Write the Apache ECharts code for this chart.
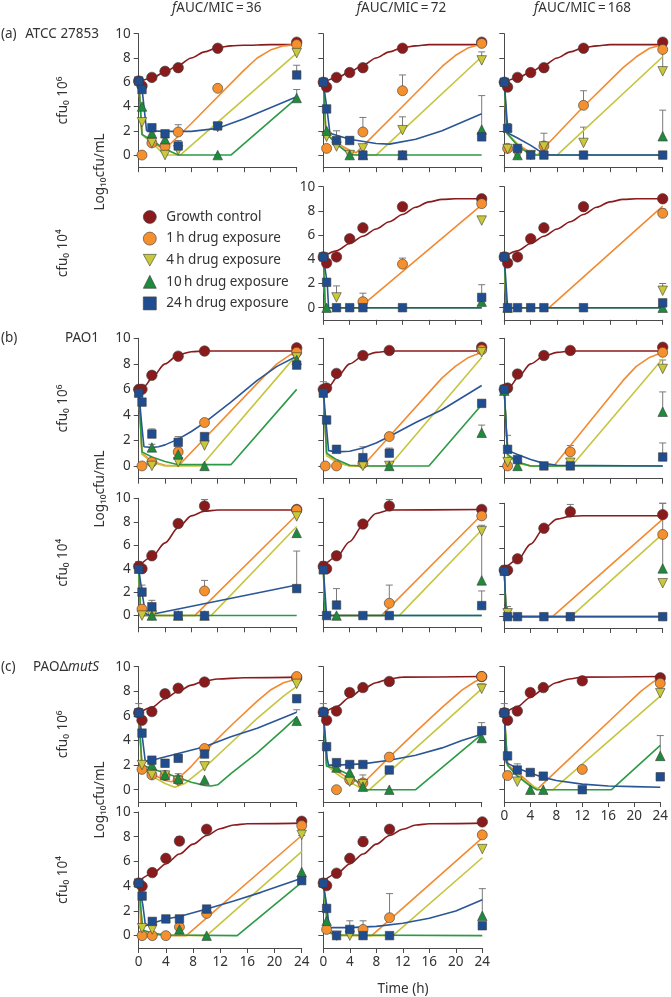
<!DOCTYPE html>
<html><head><meta charset="utf-8">
<script src="https://cdn.jsdelivr.net/npm/echarts@6/dist/echarts.min.js"></script>
<style>html,body{margin:0;padding:0;background:#fff}#c{width:671px;height:997px}</style>
</head><body><div id="c"></div>
<script>
// ---------- DATA (log10 cfu/mL vs time h) ----------
// order in each *_pts / *_fit: [growth control, 1h, 4h, 10h, 24h]
const seriesNames = ['Growth control','1\u2009h drug exposure','4\u2009h drug exposure','10\u2009h drug exposure','24\u2009h drug exposure'];
const colTitles = ['36','72','168'];
const xTicks = [0,4,8,12,16,20,24];
const yTicks = [0,2,4,6,8,10];

// (a) ATCC 27853, cfu0 10^6
const A1_pts = [[[0,6.1],[0.5,5.7],[2,6.4],[4,6.9],[6,7.2],[12,8.8],[24,9.3]],
 [[0.5,0],[2,1.0],[4,0.7],[6,1.9],[12,5.5],[24,9.1]],
 [[0.5,2.7],[2,1.0],[4,0],[6,0.4],[12,2.3],[24,8.4]],
 [[0.5,4.0],[2,1.8],[4,1.3],[12,0],[24,4.7]],
 [[0,6.1],[0.5,5.4],[2,2.25],[4,1.75],[6,0.75],[12,2.4],[24,6.6]]];
const A1_fit = [[[0,6.0],[2,6.35],[4,6.85],[6,7.4],[8,8.0],[10,8.5],[12,8.85],[14,9.0],[16,9.05],[20,9.1],[24,9.1]],
 [[0,6.1],[0.5,1.7],[2,1.0],[4,0.5],[8,2.6],[12,4.8],[16,7.0],[18,8.0],[20,8.65],[22,9.0],[24,9.1]],
 [[0,6.1],[0.5,1.7],[2,1.0],[4,0],[6.3,0],[24,8.4]],
 [[0,6.1],[0.5,1.7],[2,1.2],[4,0.5],[6,0],[14,0],[24,4.7]],
 [[0,6.1],[0.6,5.0],[1.2,2.0],[4,1.95],[8,1.95],[12,2.2],[16,3.0],[20,3.9],[24,4.8]]];
const A1_err = [[24,6.6,7.4],[24,4.7,5.4],[6,1.9,2.5],[12,2.4,2.6],[6,0.75,1.2]];

const A2_pts = [[[0,6.0],[0.5,5.6],[2,6.4],[4,6.8],[6,7.2],[12,8.8],[24,9.3]],
 [[0.5,0.55],[6,1.9],[12,5.3],[24,9.2]],
 [[0.5,1.5],[2,0.7],[4,0],[6,0.55],[12,2.05],[24,7.8]],
 [[0.5,2.0],[4,0],[6,0],[12,0],[24,2.1]],
 [[0,6.0],[0.5,3.8],[2,1.2],[4,1.2],[6,0],[12,0],[24,1.5]]];
const A2_fit = [[[0,6.0],[2,6.35],[4,6.85],[6,7.4],[8,8.0],[10,8.5],[12,8.85],[14,9.0],[16,9.1],[24,9.1]],
 [[0,6.0],[0.4,1.8],[2,1.0],[4,0.4],[5,0.2],[12,4.0],[18,7.3],[20,8.2],[22,8.85],[24,9.15]],
 [[0,6.0],[0.4,1.8],[2,1.0],[4,0.1],[5,0],[8,0],[24,8.1]],
 [[0,6.0],[0.4,1.8],[2,0.9],[4,0.05],[5,0],[24,0]],
 [[0,6.0],[0.6,3.6],[1,1.8],[4,1.3],[8,0.95],[10,0.9],[14,1.3],[18,2.0],[24,3.4]]];
const A2_err = [[6,1.9,3.1],[12,5.3,6.6],[12,2.05,3.15],[24,7.8,8.5],[24,1.5,4.9],[2,1.2,2.0],[4,1.2,1.5]];

const A3_pts = [[[0,6.0],[0.5,5.6],[2,6.4],[4,6.8],[6,7.2],[12,8.8],[24,9.3]],
 [[0.5,0.55],[6,0.75],[12,4.1],[24,8.7]],
 [[0.5,0.5],[2,0],[4,0],[6,0.7],[12,1.0],[24,6.9]],
 [[2,0],[24,1.55]],
 [[0,6.0],[0.5,2.2],[2,0.55],[4,0],[6,0],[12,0],[24,0]]];
const A3_fit = [[[0,6.0],[2,6.35],[4,6.85],[6,7.4],[8,8.0],[10,8.5],[12,8.85],[14,9.0],[16,9.1],[24,9.1]],
 [[0,6.0],[0.4,1.8],[2,0.9],[4,0.2],[5,0],[12,4.0],[18,7.2],[20,8.1],[22,8.8],[24,9.1]],
 [[0,6.0],[0.4,1.8],[2,0.9],[4,0],[8,0],[24,8.1]],
 [[0,6.0],[0.4,1.8],[2,0.8],[4,0],[24,0]],
 [[0,6.0],[0.4,3.0],[0.6,1.8],[2,1.4],[4,0.8],[6,0.1],[7,0],[24,0]]];
const A3_err = [[6,0.75,1.8],[12,4.1,5.3],[12,1.0,2.3],[24,6.9,8.5],[24,1.55,3.7],[0.5,2.2,2.6]];

// (a) ATCC 27853, cfu0 10^4
const A5_pts = [[[0,4.2],[0.5,3.7],[2,4.2],[4,5.7],[6,6.6],[12,8.35],[24,9.0]],
 [[6,0.5],[12,3.6],[24,8.6]],
 [[2,0.85],[24,7.2]],
 [[0.5,0],[24,0.5]],
 [[0,4.2],[0.5,2.1],[2,0],[4,0],[6,0],[12,0],[24,0.85]]];
const A5_fit = [[[0,4.2],[2,4.7],[4,5.3],[6,5.9],[8,6.5],[10,7.1],[12,7.7],[14,8.3],[16,8.75],[18,8.95],[20,9.0],[24,9.0]],
 [[0,4.2],[0.3,0],[5.5,0],[24,8.5]],
 [[0,4.2],[0.3,0],[24,0]],
 [[0,4.2],[0.3,0],[24,0]],
 [[0,4.2],[0.6,2.0],[0.8,0],[24,0]]];
const A5_err = [[6,0.5,1.2],[12,3.6,4.1],[2,0.85,1.8],[24,0.85,1.9]];

const A6_pts = [[[0,4.2],[0.5,3.7],[2,4.2],[4,5.7],[6,6.6],[12,8.35],[24,9.0]],
 [[24,7.8]],
 [[24,1.4]],
 [[0.5,0],[24,0]],
 [[0,4.2],[0.5,0],[2,0],[4,0],[6,0],[12,0],[24,0.4]]];
const A6_fit = [[[0,4.2],[2,4.7],[4,5.3],[6,5.9],[8,6.5],[10,7.1],[12,7.7],[14,8.3],[16,8.75],[18,8.95],[20,9.0],[24,9.0]],
 [[0,4.2],[0.3,0],[6.8,0],[24,8.4]],
 [[0,4.2],[0.3,0],[24,0]],
 [[0,4.2],[0.3,0],[24,0]],
 [[0,4.2],[0.5,0],[24,0]]];
const A6_err = [[24,7.8,8.15],[24,1.4,2.0]];

// (b) PAO1, cfu0 10^6
const B1_pts = [[[0,6.0],[0.5,6.0],[2,7.1],[6,8.6],[10,9.0],[24,9.25]],
 [[0.5,0],[2,0.3],[6,1.1],[10,3.4],[24,8.9]],
 [[2,0],[6,0.3],[10,1.6],[24,8.5]],
 [[2,1.45],[6,0.9],[10,0],[24,8.3]],
 [[0,5.7],[0.5,5.0],[2,2.5],[6,1.85],[10,2.3],[24,7.9]]];
const B1_fit = [[[0,6.0],[1,6.3],[2,6.9],[4,8.0],[6,8.7],[8,8.95],[10,9.0],[24,9.0]],
 [[0,5.9],[0.5,1.0],[2,0.35],[4,0.05],[6,0],[19,7.0],[21,8.0],[23,8.7],[24,8.85]],
 [[0,5.9],[0.5,0.9],[2,0.3],[4,0],[9.5,0],[24,8.7]],
 [[0,5.9],[0.5,1.1],[2,0.7],[4,0.35],[6,0.1],[14,0.1],[24,6.0]],
 [[0,5.9],[0.5,3.0],[0.8,1.5],[2,1.45],[3,1.5],[4,1.65],[6,2.1],[8,2.7],[10,3.4],[14,5.0],[18,6.7],[21,7.8],[24,8.6]]];
const B1_err = [[2,7.1,7.4],[2,2.5,2.9],[6,1.85,2.3],[10,1.6,2.0],[6,1.1,1.4],[2,1.45,1.7]];

const B2_pts = [[[0,6.0],[0.5,6.1],[2,7.25],[6,8.65],[10,9.05],[24,9.3]],
 [[0.3,0],[2,0],[6,0.2],[10,2.3],[24,9.1]],
 [[6,0],[10,0],[24,8.9]],
 [[10,0],[24,2.6]],
 [[0,5.7],[0.5,3.6],[2,1.3],[6,0.65],[10,1.0],[24,4.9]]];
const B2_fit = [[[0,6.0],[1,6.3],[2,6.9],[4,8.0],[6,8.6],[8,8.9],[10,9.0],[24,9.0]],
 [[0,5.9],[0.5,1.0],[2,0.3],[4,0],[6,0],[10,2.3],[18,6.9],[20,7.8],[22,8.5],[24,8.9]],
 [[0,5.9],[0.5,0.8],[2,0.3],[4,0],[10,0],[24,8.5]],
 [[0,5.9],[0.5,1.0],[2,0.5],[4,0.05],[6,0],[16,0],[24,4.8]],
 [[0,5.9],[0.4,3.5],[0.8,1.2],[2,1.1],[4,1.15],[6,1.4],[8,1.8],[10,2.3],[14,3.4],[18,4.4],[24,6.3]]];
const B2_err = [[2,7.25,7.5],[0,5.7,6.6],[6,0.65,1.5],[10,1.0,1.4],[2,1.3,1.6],[24,2.6,3.2],[24,4.9,5.1]];

const B3_pts = [[[0,6.0],[0.5,6.1],[2,7.2],[6,8.65],[10,9.05],[24,9.3]],
 [[0.5,0],[10,1.1],[24,8.9]],
 [[0.5,0.3],[10,0.25],[24,7.6]],
 [[0,5.9],[2,0],[24,4.25]],
 [[0,6.0],[0.5,1.3],[2,0.5],[6,0],[10,0],[24,0.7]]];
const B3_fit = [[[0,6.0],[1,6.3],[2,6.9],[4,8.0],[6,8.6],[8,8.9],[10,9.0],[24,9.0]],
 [[0,5.9],[0.5,0.8],[2,0.3],[4,0],[7.5,0],[18,6.7],[20,7.8],[22,8.5],[24,8.9]],
 [[0,5.9],[0.5,0.8],[2,0.2],[4,0],[10.2,0],[24,8.4]],
 [[0,5.9],[0.5,0.9],[2,0.3],[4,0],[24,0]],
 [[0,5.9],[0.4,2.0],[0.6,1.2],[2,0.9],[4,0.5],[6,0.2],[8,0.05],[24,0]]];
const B3_err = [[2,7.2,7.5],[10,1.1,1.6],[24,7.6,8.3],[24,4.25,5.8],[24,0.7,1.8],[0.5,1.3,2.4]];

// (b) PAO1, cfu0 10^4
const B4_pts = [[[0,4.2],[0.5,4.0],[2,5.1],[6,7.85],[10,9.35],[24,9.05]],
 [[0.5,0.55],[10,2.1],[24,9.0]],
 [[0.5,0],[2,0],[24,8.45]],
 [[2,0],[6,0],[10,0],[24,7.05]],
 [[0,3.95],[0.5,2.0],[2,0.75],[6,0],[10,0],[24,2.3]]];
const B4_fit = [[[0,4.2],[2,5.0],[4,6.2],[6,7.5],[8,8.5],[10,8.9],[12,9.0],[24,9.0]],
 [[0,4.0],[0.3,0],[8.5,0],[24,8.6]],
 [[0,4.0],[0.3,0],[11,0],[24,7.6]],
 [[0,4.0],[0.3,0],[24,0]],
 [[0,4.0],[0.5,2.0],[1,0.2],[1.5,0.05],[24,2.6]]];
const B4_err = [[0,4.2,4.6],[2,5.1,5.5],[10,9.35,9.9],[10,2.1,3.0],[0.5,2.0,2.6],[2,0.75,1.3],[24,2.3,5.5]];

const B5_pts = [[[0,4.2],[0.5,4.0],[2,5.1],[6,7.8],[10,9.35],[24,9.05]],
 [[10,1.05],[24,8.5]],
 [[24,7.2]],
 [[2,0],[24,3.0]],
 [[0,3.9],[0.5,0],[2,0.9],[6,0],[10,0],[24,0.85]]];
const B5_fit = [[[0,4.2],[2,5.0],[4,6.3],[6,7.7],[8,8.7],[10,9.0],[24,9.05]],
 [[0,4.0],[0.3,0],[8.8,0],[24,8.6]],
 [[0,4.0],[0.3,0],[11.5,0],[24,7.3]],
 [[0,4.0],[0.3,0],[24,0]],
 [[0,4.0],[0.5,0],[24,0]]];
const B5_err = [[0,4.2,4.6],[2,5.1,5.4],[10,9.35,9.9],[10,1.05,2.6],[2,0.9,2.3],[24,3.0,7.7],[24,0.85,2.1]];

const B6_pts = [[[0,4.1],[0.5,4.1],[2,5.1],[6,7.8],[10,9.25],[24,9.0]],
 [[24,7.25]],
 [[0.5,0.3],[24,2.95]],
 [[24,4.25]],
 [[0,4.0],[0.5,0],[2,0],[6,0],[10,0],[24,0]]];
const B6_fit = [[[0,4.2],[2,5.0],[4,6.4],[6,7.8],[8,8.6],[10,8.85],[12,8.9],[24,8.9]],
 [[0,4.0],[0.3,0],[7.3,0],[24,8.6]],
 [[0,4.0],[0.3,0],[10.1,0],[24,7.3]],
 [[0,4.0],[0.3,0],[24,0]],
 [[0,4.0],[0.3,0],[24,0]]];
const B6_err = [[0,4.1,4.5],[10,9.25,9.9],[24,9.0,10.0],[0.5,0.3,0.9],[24,4.25,10.0]];

// (c) PAOΔmutS, cfu0 10^6
const C1_pts = [[[0,6.25],[0.5,5.65],[2,6.35],[4,7.8],[6,8.25],[10,8.75],[24,9.1]],
 [[0.5,1.65],[2,1.2],[4,1.15],[6,0.8],[10,3.35],[24,9.2]],
 [[0.5,2.0],[2,1.2],[4,1.15],[6,0.7],[10,1.9],[24,8.6]],
 [[2,2.0],[4,1.2],[6,0.9],[10,0.8],[24,5.6]],
 [[0,6.25],[0.5,4.6],[2,2.4],[4,2.15],[6,2.55],[10,2.9],[24,7.4]]];
const C1_fit = [[[0,6.2],[2,6.7],[4,7.4],[6,8.0],[8,8.5],[10,8.85],[12,9.0],[16,9.1],[24,9.15]],
 [[0,6.2],[0.5,1.8],[2,1.3],[4,0.75],[5,0.65],[6,0.9],[8,1.9],[10,3.1],[14,5.2],[18,7.2],[20,8.1],[22,8.7],[24,9.0]],
 [[0,6.2],[0.5,1.8],[2,1.1],[4,0.5],[5.5,0.2],[7,0.5],[10,1.8],[14,3.8],[18,5.8],[22,7.6],[24,8.4]],
 [[0,6.2],[0.5,2.0],[2,1.7],[4,1.35],[6,1.0],[8,0.6],[10,0.35],[11,0.3],[12,0.4],[14,1.3],[18,3.0],[22,4.9],[24,5.9]],
 [[0,6.2],[0.5,4.5],[1,2.3],[2,2.4],[6,2.95],[10,3.5],[14,4.3],[18,5.0],[24,6.3]]];
const C1_err = [[0,6.25,7.0],[4,7.8,8.1],[6,0.8,1.3],[10,1.9,2.2],[24,8.6,9.0],[24,6.3,6.5],[2,2.0,2.2]];

const C2_pts = [[[0,6.3],[0.5,5.65],[2,6.4],[4,7.9],[6,8.3],[10,8.8],[24,9.2]],
 [[2,0],[4,0.8],[6,0.55],[10,2.65],[24,9.2]],
 [[4,0.65],[6,0.45],[24,8.2]],
 [[2,1.8],[4,1.4],[6,0.25],[10,0],[24,4.2]],
 [[0,6.3],[0.5,3.5],[2,2.2],[4,2.05],[6,2.05],[10,1.6],[24,4.8]]];
const C2_fit = [[[0,6.2],[2,6.75],[4,7.5],[6,8.2],[8,8.7],[10,9.0],[12,9.15],[24,9.2]],
 [[0,6.2],[0.5,2.0],[2,1.5],[4,0.9],[6,0.5],[10,2.65],[14,4.7],[18,6.7],[21,8.1],[23,8.8],[24,9.0]],
 [[0,6.2],[0.5,2.0],[2,1.3],[4,0.6],[6,0.05],[7,0],[24,8.2]],
 [[0,6.2],[0.5,1.9],[2,1.7],[4,1.2],[6,0.2],[6.5,0],[14,0],[24,4.5]],
 [[0,6.2],[0.6,2.5],[0.8,2.0],[2,2.0],[6,2.1],[10,2.4],[14,2.8],[18,3.4],[21,4.0],[24,4.5]]];
const C2_err = [[0,6.3,7.0],[4,7.9,8.2],[6,0.55,1.2],[24,4.8,5.45],[24,8.2,8.6]];

const C3_pts = [[[0,6.25],[0.5,5.65],[2,6.4],[4,7.9],[6,8.3],[12,8.85],[24,9.1]],
 [[0.5,1.15],[12,1.65],[24,8.65]],
 [[2,0.65],[24,7.85]],
 [[4,0],[6,0],[24,2.75]],
 [[0,6.25],[0.5,2.75],[2,1.6],[4,1.4],[6,1.1],[12,0],[24,1.05]]];
const C3_fit = [[[0,6.2],[2,6.75],[4,7.5],[6,8.15],[8,8.7],[10,9.0],[12,9.15],[24,9.2]],
 [[0,6.2],[0.5,2.0],[2,1.4],[4,0.5],[5,0],[12,3.5],[18,6.5],[21,8.0],[23,8.8],[24,9.0]],
 [[0,6.2],[0.5,2.0],[2,1.2],[4,0.4],[5.5,0],[7.5,0],[24,7.6]],
 [[0,6.2],[0.5,2.0],[2,1.1],[4,0.3],[5,0],[16.5,0],[24,3.6]],
 [[0,6.2],[0.3,2.2],[2,1.75],[4,1.35],[6,1.0],[8,0.75],[12,0.45],[16,0.3],[20,0.25],[24,0.2]]];
const C3_err = [[0,6.25,7.0],[4,7.9,8.2],[2,1.6,2.1],[24,2.75,4.4],[0.5,1.15,1.5]];

// (c) PAOΔmutS, cfu0 10^4
const C4_pts = [[[0,4.25],[0.5,4.0],[2,5.1],[4,6.25],[6,7.65],[10,8.6],[24,9.25]],
 [[0.5,0],[2,0],[4,0],[6,0.7],[10,1.8],[24,8.9]],
 [[0.5,0.6],[2,0.5],[24,8.15]],
 [[6,0.5],[10,0],[24,5.15]],
 [[0,4.25],[0.5,3.2],[2,1.15],[4,1.35],[6,1.35],[10,2.15],[24,4.45]]];
const C4_fit = [[[0,4.4],[2,5.0],[4,5.8],[6,6.6],[8,7.4],[10,8.1],[12,8.65],[14,8.95],[16,9.05],[24,9.1]],
 [[0,4.2],[0.3,1.0],[0.6,0.3],[2,0.1],[4,0],[7,0],[24,8.1]],
 [[0,4.2],[0.6,0.3],[2,0.05],[10,0],[24,6.8]],
 [[0,4.2],[0.6,0.45],[2,0.2],[4,0.05],[14.5,0],[24,4.3]],
 [[0,4.2],[0.6,2.5],[1,0.8],[2,1.0],[4,1.35],[6,1.55],[10,2.15],[14,2.8],[18,3.5],[24,4.65]]];
const C4_err = [[6,7.65,8.0],[6,0.7,1.0],[2,1.15,1.4],[24,5.15,8.1],[0.5,3.2,3.5]];

const C5_pts = [[[0,4.25],[0.5,4.05],[2,5.05],[4,6.25],[6,7.6],[10,8.6],[24,9.2]],
 [[0.5,0.5],[6,0.5],[10,1.45],[24,8.15]],
 [[2,0],[4,0],[24,7.0]],
 [[0.5,1.2],[24,1.6]],
 [[0,4.25],[0.5,2.2],[2,0],[4,0.5],[6,0],[10,0],[24,0.8]]];
const C5_fit = [[[0,4.4],[2,5.0],[4,5.8],[6,6.6],[8,7.4],[10,8.1],[12,8.6],[14,8.95],[16,9.05],[24,9.1]],
 [[0,4.2],[0.6,0.3],[2,0.05],[7.3,0],[24,7.9]],
 [[0,4.2],[0.6,0.3],[2,0],[10.5,0],[24,6.3]],
 [[0,4.2],[0.8,0.3],[2,0.05],[24,0]],
 [[0,4.2],[0.5,2.5],[0.9,0.65],[4,0.65],[8,0.75],[12,1.0],[16,1.4],[20,2.0],[24,2.9]]];
const C5_err = [[6,7.6,8.0],[10,1.45,3.4],[6,0.5,1.2],[4,0.5,1.2],[24,1.6,3.8]];

// ---------- LAYOUT / STYLE ----------
const FONT = 'Noto Sans';
const TXT = '#333';
const AX = '#4a4a4a';
const fillC = ['#8a1b1d','#f5902f','#c9c83b','#1d8a3c','#1f4d8f'];
const lineC = ['#8a1b1d','#f28a30','#c6c540','#2b9a45','#2a5696'];
const DOWN_TRI = 'path://M0,0L10,0L5,9Z';
const symbols = ['circle','circle',DOWN_TRI,'triangle','rect'];
const symSizes = [10.5,10,9.5,9.5,8.5];

const colLeft = [138.7,323.3,504.3];
const colW = [158,158.4,158.4];
const rowTop = [33.7,186.7,338.3,498.3,666.7,812];
const rowH = [133.5,133.1,140.4,129,135.3,136];

const panels = [
 {p:A1_pts,f:A1_fit,e:A1_err,r:0,c:0},{p:A2_pts,f:A2_fit,e:A2_err,r:0,c:1},{p:A3_pts,f:A3_fit,e:A3_err,r:0,c:2},
 {p:A5_pts,f:A5_fit,e:A5_err,r:1,c:1},{p:A6_pts,f:A6_fit,e:A6_err,r:1,c:2},
 {p:B1_pts,f:B1_fit,e:B1_err,r:2,c:0},{p:B2_pts,f:B2_fit,e:B2_err,r:2,c:1},{p:B3_pts,f:B3_fit,e:B3_err,r:2,c:2},
 {p:B4_pts,f:B4_fit,e:B4_err,r:3,c:0},{p:B5_pts,f:B5_fit,e:B5_err,r:3,c:1},{p:B6_pts,f:B6_fit,e:B6_err,r:3,c:2,top:503.3,h:124.7},
 {p:C1_pts,f:C1_fit,e:C1_err,r:4,c:0},{p:C2_pts,f:C2_fit,e:C2_err,r:4,c:1},{p:C3_pts,f:C3_fit,e:C3_err,r:4,c:2},
 {p:C4_pts,f:C4_fit,e:C4_err,r:5,c:0,w:163},{p:C5_pts,f:C5_fit,e:C5_err,r:5,c:1,w:159}
];

const grids=[],xAxes=[],yAxes=[],series=[];
panels.forEach((pn,i)=>{
  const showY = pn.c===0 || (pn.r===1 && pn.c===1);
  const showX = pn.r===5 || (pn.r===4 && pn.c===2);
  grids.push({left:colLeft[pn.c],top:pn.top||rowTop[pn.r],width:pn.w||colW[pn.c],height:pn.h||rowH[pn.r]});
  xAxes.push({gridIndex:i,type:'value',min:0,max:24,interval:4,
    axisLine:{onZero:false,lineStyle:{color:AX,width:1}},
    axisTick:{length:5,lineStyle:{color:AX}},
    axisLabel:{show:showX,fontSize:13.5,color:TXT,fontFamily:FONT,margin:7},
    splitLine:{show:false}});
  yAxes.push({gridIndex:i,type:'value',min:-1,max:10,interval:1,
    axisLine:{show:true,onZero:false,lineStyle:{color:AX,width:1}},
    axisTick:{show:true,length:5,customValues:yTicks,lineStyle:{color:AX}},
    axisLabel:{show:showY,customValues:yTicks,fontSize:13.5,color:TXT,fontFamily:FONT,margin:8},
    splitLine:{show:false}});
  series.push({type:'custom',xAxisIndex:i,yAxisIndex:i,z:1,silent:true,
    encode:{x:0,y:[1,2]},data:pn.e,
    renderItem:(params,api)=>{
      const a=api.coord([api.value(0),api.value(1)]), b=api.coord([api.value(0),api.value(2)]);
      const st={stroke:'#7a7a7a',lineWidth:1};
      return {type:'group',children:[
        {type:'line',shape:{x1:a[0],y1:a[1],x2:b[0],y2:b[1]},style:st},
        {type:'line',shape:{x1:b[0]-3.5,y1:b[1],x2:b[0]+3.5,y2:b[1]},style:st}]};
    }});
  pn.f.forEach((d,k)=>{
    series.push({type:'line',name:seriesNames[k],xAxisIndex:i,yAxisIndex:i,data:d,
      showSymbol:false,symbol:'none',z:2,silent:true,
      smooth:(k===0)?0.3:false,smoothMonotone:'x',
      lineStyle:{color:lineC[k],width:1.6}});
  });
  pn.p.forEach((d,k)=>{
    series.push({type:'scatter',name:seriesNames[k],xAxisIndex:i,yAxisIndex:i,data:d,z:3,
      symbol:symbols[k],symbolSize:symSizes[k],
      itemStyle:{color:fillC[k],borderColor:'#3c3c3c',borderWidth:0.6,opacity:1}});
  });
});

// ---------- TEXT ----------
const g=[];
const t=(x,y,text,o)=>g.push(Object.assign({type:'text',x:x,y:y,silent:true,
  style:Object.assign({text:text,fontSize:13.5,fontFamily:FONT,fill:TXT,align:'center',verticalAlign:'middle'},(o&&o.style)||{})},
  (o&&o.rot)?{rotation:o.rot}:{}));
const italic={i:{fontStyle:'italic',fontSize:13.5,fontFamily:FONT,fill:TXT}};
colTitles.forEach((v,c)=>t(colLeft[c]+colW[c]/2-1,8,'{i|f}AUC/MIC\u2009=\u2009'+v,{style:{rich:italic}}));
t(1,33.7,'(a)',{style:{align:'left'}});
t(99,33.7,'ATCC 27853',{style:{align:'right'}});
t(1,338.3,'(b)',{style:{align:'left'}});
t(99,338.3,'PAO1',{style:{align:'right'}});
t(1,666.7,'(c)',{style:{align:'left'}});
t(99,666.7,'PAO\u0394{i|mutS}',{style:{align:'right',rich:italic}});
const cfuLab=['cfu\u2080 10\u2076','cfu\u2080 10\u2074'];
rowTop.forEach((tp,r)=>t(63,tp+rowH[r]/2,cfuLab[r%2],{rot:Math.PI/2}));
[172,489,800].forEach(y=>t(100,y,'Log\u2081\u2080cfu/mL',{rot:Math.PI/2}));
t(403,989,'Time (h)');

const chart=echarts.init(document.getElementById('c'),null,{renderer:'canvas'});
chart.setOption({
  animation:false,
  backgroundColor:'#fff',
  grid:grids,xAxis:xAxes,yAxis:yAxes,series:series,
  legend:{orient:'vertical',left:138,top:205,itemWidth:13,itemHeight:13,itemGap:7.6,selectedMode:false,
    textStyle:{fontSize:13.5,color:TXT,fontFamily:FONT,padding:[0,0,0,5]},
    data:seriesNames.map((n,k)=>({name:n,icon:symbols[k],itemStyle:{color:fillC[k],borderColor:'#3c3c3c',borderWidth:0.6}}))},
  graphic:g
});
</script></body></html>
